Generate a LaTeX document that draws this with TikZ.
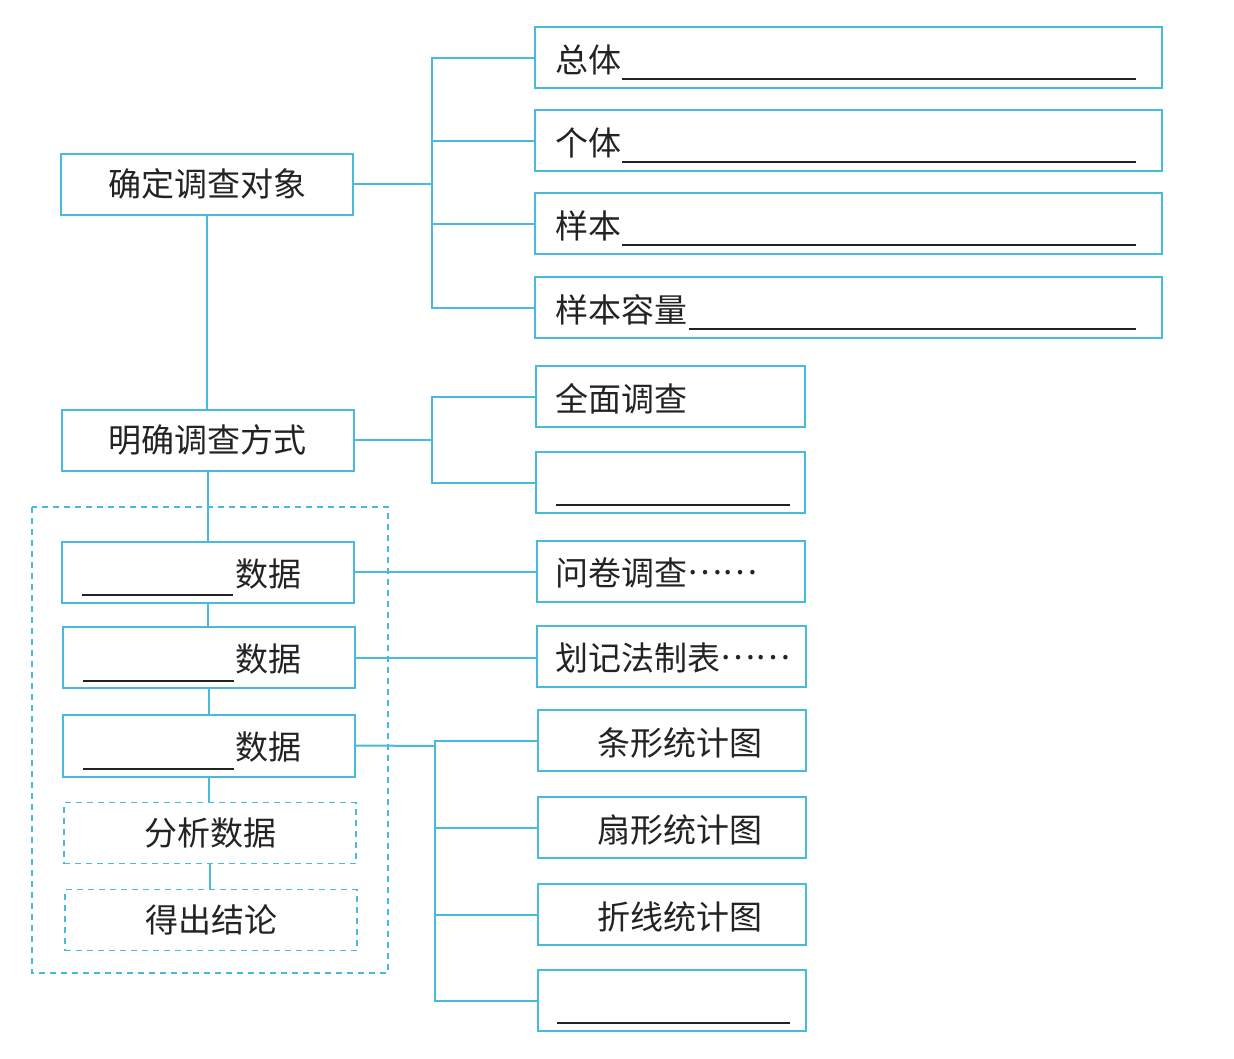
\documentclass[tikz,border=0pt]{standalone}
\usepackage{fontspec}
\setmainfont{Noto Sans CJK SC}
\definecolor{ln}{RGB}{72,186,222}
\definecolor{tx}{RGB}{35,35,35}
\newcommand{\midell}{\raisebox{0.33em}{……}}
\begin{document}
\begin{tikzpicture}[x=1pt,y=-1pt,
 box/.style={draw=ln, line width=2pt, inner sep=0pt, minimum height=61pt, font=\fontsize{33}{33}\selectfont, text=tx},
 dbox/.style={box, dash pattern=on 6pt off 5pt, line width=1.5pt},
 txt/.style={font=\fontsize{33}{33}\selectfont, text=tx, inner sep=0pt},
 con/.style={draw=ln, line width=2pt},
 uline/.style={draw=tx, line width=1.7pt}]
\useasboundingbox[fill=white] (0,0) rectangle (1234,1058);

% outer dashed frame
\draw[ln, line width=1.5pt, dash pattern=on 6pt off 5pt] (32,507) rectangle (388,973);

% left column
\node[box, minimum width=292pt] (A) at (207,184) {确定调查对象};
\node[box, minimum width=292pt] (B) at (207.5,440) {明确调查方式};
\node[box, minimum width=292pt] (D1) at (208,572) {};
\node[box, minimum width=292pt] (D2) at (209,657.5) {};
\node[box, minimum width=292pt, minimum height=62pt] (D3) at (209,745.5) {};
\node[dbox, minimum width=292pt] (D4) at (210,833) {分析数据};
\node[dbox, minimum width=292pt] (D5) at (211,920) {得出结论};

\node[txt, anchor=west] (d1t) at (235,574) {数据};
\node[txt, anchor=west] (d2t) at (235,659) {数据};
\node[txt, anchor=west] (d3t) at (235,747) {数据};
\draw[uline] (82,595) -- (233,595);
\draw[uline] (83,681) -- (234,681);
\draw[uline] (83,769) -- (234,769);

% top right boxes
\node[box, minimum width=627pt] (R1) at (848.5,57.5) {};
\node[box, minimum width=627pt] (R2) at (848.5,140.5) {};
\node[box, minimum width=627pt] (R3) at (848.5,223.5) {};
\node[box, minimum width=627pt] (R4) at (848.5,307.5) {};
\node[txt, anchor=west] (r1t) at (555,59.5) {总体};
\node[txt, anchor=west] (r2t) at (555,142.5) {个体};
\node[txt, anchor=west] (r3t) at (555,225.5) {样本};
\node[txt, anchor=west] (r4t) at (555,309.5) {样本容量};
\draw[uline] (622,79) -- (1136,79);
\draw[uline] (622,162) -- (1136,162);
\draw[uline] (622,245) -- (1136,245);
\draw[uline] (689,329) -- (1136,329);

% survey method boxes
\node[box, minimum width=269pt] (C1) at (670.5,396.5) {};
\node[box, minimum width=269pt] (C2) at (670.5,482.5) {};
\node[txt, anchor=west] (c1t) at (555,398.5) {全面调查};
\draw[uline] (556,505) -- (790,505);

% collection / organisation boxes
\node[box, minimum width=268pt] (E1) at (671,571) {};
\node[box, minimum width=269pt] (E2) at (671.5,656) {};
\node[txt, anchor=west] (e1t) at (555,573) {问卷调查\midell};
\node[txt, anchor=west] (e2t) at (555,658) {划记法制表\midell};

% chart boxes
\node[box, minimum width=268pt] (F1) at (672,740.5) {};
\node[box, minimum width=268pt] (F2) at (672,827.5) {};
\node[box, minimum width=268pt] (F3) at (672,914.5) {};
\node[box, minimum width=268pt] (F4) at (672,1000.5) {};
\node[txt] (f1t) at (680,742.5) {条形统计图};
\node[txt] (f2t) at (680,829.5) {扇形统计图};
\node[txt] (f3t) at (680,916.5) {折线统计图};
\draw[uline] (557,1023) -- (790,1023);

% connectors
\coordinate (j1) at (432,184);
\coordinate (j2) at (432,440);
\coordinate (j3) at (435,746);
\draw[con] (A.east) -- (j1);
\draw[con] (R1.west) -| (j1);
\draw[con] (R4.west) -| (j1);
\draw[con] (R2.west) -- (R2.west -| j1);
\draw[con] (R3.west) -- (R3.west -| j1);

\draw[con] (A.south) -- (A.south |- B.north);
\draw[con] (B.east) -- (j2);
\draw[con] (C1.west) -| (j2);
\draw[con] (C2.west) -| (j2);

\draw[con] (B.south) -- (B.south |- D1.north);
\draw[con] (D1.south) -- (D1.south |- D2.north);
\draw[con] (D2.south) -- (D2.south |- D3.north);
\draw[con] (D3.south) -- (D3.south |- D4.north);
\draw[con] (D4.south) -- (D4.south |- D5.north);

\draw[con] (D1.east) -- (E1.west |- D1.east);
\draw[con] (D2.east) -- (E2.west |- D2.east);

\draw[con] (D3.east) -- (j3);
\draw[con] (F1.west) -| (j3);
\draw[con] (F4.west) -| (j3);
\draw[con] (F2.west) -- (F2.west -| j3);
\draw[con] (F3.west) -- (F3.west -| j3);
\end{tikzpicture}
\end{document}
